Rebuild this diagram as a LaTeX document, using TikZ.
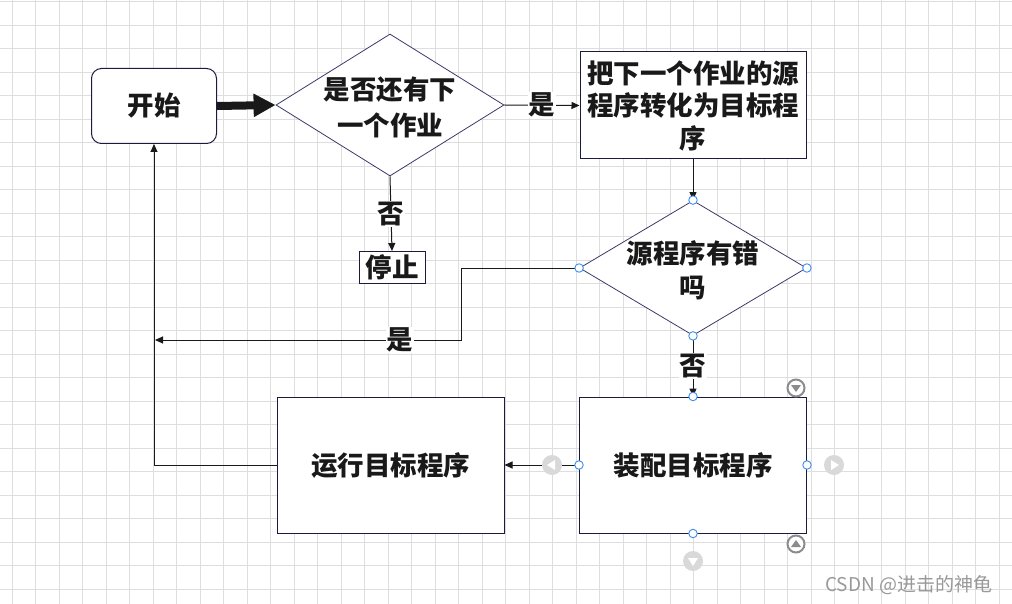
\documentclass[tikz,border=0pt]{standalone}
\usepackage{fontspec}
\newfontfamily\cjk{Noto Sans CJK SC}
\usetikzlibrary{shapes.geometric,arrows.meta}
\definecolor{navy}{HTML}{1B1B40}
\definecolor{dianavy}{HTML}{3B3B6B}
\definecolor{handleblue}{HTML}{3D8EF0}
\begin{document}
\begin{tikzpicture}[x=1pt,y=-1pt,
 gridline/.style={draw=black!13, line width=0.8pt},
 txt/.style={font=\cjk\bfseries\fontsize{26.5}{36}\selectfont, align=center, text=black!90},
 rbox/.style={draw=navy, line width=1pt, fill=white, inner sep=0pt},
 dia/.style={diamond, draw=dianavy, line width=0.8pt, fill=white, inner sep=0pt},
 conn/.style={draw=black!90, line width=1pt, -{Triangle[length=8pt,width=7pt]}},
 lbl/.style={txt, fill=white, inner sep=1pt},
 handle/.style={circle, draw=handleblue, fill=white, line width=0.9pt, minimum size=8.5pt, inner sep=0pt},
 gicon/.style={circle, fill=black!15, minimum size=20pt, inner sep=0pt},
 oicon/.style={circle, draw=black!45, line width=2pt, fill=white, minimum size=17pt, inner sep=0pt}
]
\useasboundingbox (0,0) rectangle (1012,604);
\fill[white] (0,0) rectangle (1012,604);
\foreach \i in {0,...,42} \draw[gridline] ({12.3+23.5*\i},0) -- ({12.3+23.5*\i},604);
\foreach \j in {0,...,25} \draw[gridline] (0,{1.7+23.5*\j}) -- (1012,{1.7+23.5*\j});

\node[rbox, txt, rounded corners=10pt, minimum width=125pt, minimum height=75pt] (start) at (154,106) {开始};
\node[dia, minimum width=228pt, minimum height=142pt] (d1) at (390,105) {};
\node[txt] (d1t) at (390,107) {是否还有下\\一个作业};
\node[rbox, txt, font=\cjk\bfseries\fontsize{26.5}{32.5}\selectfont, minimum width=226pt, minimum height=107pt] (b2) at (693,105.5) {把下一个作业的源\\程序转化为目标程\\序};
\node[dia, minimum width=227pt, minimum height=135pt] (d2) at (693,268) {};
\node[txt, font=\cjk\bfseries\fontsize{26.5}{34}\selectfont] (d2t) at (693,270) {源程序有错\\吗};
\node[rbox, txt, minimum width=227pt, minimum height=136pt] (b3) at (693,465) {装配目标程序};
\node[rbox, txt, minimum width=227pt, minimum height=136pt] (b4) at (390.5,465) {运行目标程序};
\node[rbox, txt, minimum width=66pt, minimum height=32pt] (stop) at (392,267.5) {停止};

\coordinate (c1) at (461,268);
\coordinate (yes2) at (155,340);

\draw[draw=black!90, line width=8pt, -{Triangle[length=22pt,width=22pt]}] (start.east) -- (d1.west);
\draw[conn] (d1.east) -- node[lbl]{是} (b2.west);
\draw[conn] (b2.south) -- (d2.north);
\draw[conn] (d1.south) -- node[lbl]{否} (stop.north);
\draw[conn] (d2.south) -- node[lbl]{否} (b3.north);
\draw[conn] (b3.west) -- (b4.east);
\draw[conn] (b4.west) -| (start.south);
\draw[conn] (d2.west) -- (c1) |- node[lbl, pos=0.6]{是} (yes2);

\foreach \a in {north,south,east,west} {
  \node[handle] at (d2.\a) {};
  \node[handle] at (b3.\a) {};
}

\node[gicon] (il) at (552,465) {};
\fill[white] (547,465) -- (555,460) -- (555,470) -- cycle;
\node[gicon] (ir) at (834,465) {};
\fill[white] (839,465) -- (831,460) -- (831,470) -- cycle;
\node[gicon] (id) at (693,561) {};
\fill[white] (693,566) -- (688,558) -- (698,558) -- cycle;
\node[oicon] (ot) at (796,388) {};
\fill[black!45] (796,392) -- (791,385) -- (801,385) -- cycle;
\node[oicon] (ob) at (796,544) {};
\fill[black!45] (796,540) -- (791,547) -- (801,547) -- cycle;

\node[font=\cjk\fontsize{19}{19}\selectfont, text=black!40, anchor=west, inner sep=0pt] (wm) at (825,585) {CSDN @进击的神龟};
\end{tikzpicture}
\end{document}
